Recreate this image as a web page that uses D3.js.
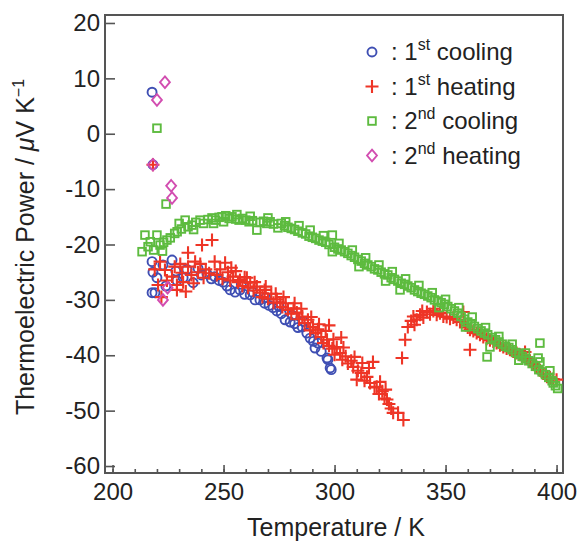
<!DOCTYPE html>
<html>
<head>
<meta charset="utf-8">
<script src="https://cdn.jsdelivr.net/npm/d3@7"></script>
<style>
  body { margin: 0; background: #fff; }
  svg { font-family: "Liberation Sans", Arial, sans-serif; }
  .tick text { font-size: 24px; fill: #222; }
  .tick line { stroke: #555; stroke-width: 1.6; }
</style>
</head>
<body>
<svg id="chart" width="580" height="541"></svg>
<script>
// [temperature K, thermoelectric power uV/K]
var cooling1 = [
  [217.8,7.5],[218.2,-5.6],[217.8,-23.1],[218.2,-25.0],[217.8,-28.7],[219.1,-28.7],[220.0,-26.0],
  [222.7,-23.7],[224.0,-27.5],[226.8,-22.8],[228.5,-24.8],[229.0,-26.5],[231.8,-26.0],[233.5,-24.5],
  [236.3,-26.9],[238.5,-24.3],[240.0,-25.5],[242.5,-25.3],[244.5,-26.2],[246.0,-25.8],[248.0,-26.5],
  [249.8,-26.8],[251.5,-27.5],[253.0,-28.2],[255.2,-28.6],[257.4,-28.2],[259.5,-29.0],[262.0,-29.1],
  [264.2,-30.0],[266.4,-30.0],[268.5,-30.6],[270.5,-31.0],[272.3,-31.4],[274.0,-32.0],[276.0,-32.5],
  [277.7,-33.6],[280.0,-34.0],[282.0,-34.3],[283.5,-35.0],[285.4,-34.9],[287.5,-36.0],[289.0,-36.9],
  [290.5,-37.5],[291.2,-38.7],[292.5,-37.8],[294.0,-39.3],[296.6,-40.5],[297.0,-40.8],[298.0,-42.3],
  [298.5,-42.6],[258.0,-27.2],[263.0,-28.6],[269.0,-29.6],[275.0,-31.2],[281.0,-32.8],[286.0,-33.9]
];
var heating1 = [
  [218.2,-5.6],[219.0,-24.5],[220.5,-27.3],[221.4,-23.1],[222.0,-29.5],[223.6,-24.6],[224.5,-26.5],
  [226.8,-25.8],[228.0,-24.0],[229.0,-27.3],[229.0,-28.2],[230.5,-23.5],[231.3,-25.1],[231.8,-26.8],
  [233.0,-28.5],[234.0,-24.0],[234.0,-21.5],[235.5,-25.5],[236.5,-27.0],[237.2,-23.1],[238.5,-25.0],
  [239.5,-23.5],[240.3,-20.1],[241.0,-26.0],[242.0,-24.5],[243.5,-25.2],[244.8,-19.2],[246.0,-23.1],
  [247.0,-25.5],[248.5,-24.5],[249.5,-26.2],[250.7,-23.3],[252.0,-25.0],[253.0,-26.5],[254.3,-25.8],
  [255.5,-24.8],[256.5,-26.8],[257.4,-26.4],[258.5,-27.5],[259.5,-25.9],[261.0,-27.8],[262.0,-26.9],
  [263.5,-28.3],[265.0,-27.6],[266.4,-28.7],[267.5,-29.5],[268.5,-28.2],[270.0,-29.8],[271.5,-28.9],
  [272.5,-30.5],[274.0,-29.9],[275.5,-30.5],[276.5,-31.3],[278.0,-30.6],[279.0,-31.8],[280.5,-32.5],
  [281.5,-31.5],[283.0,-32.3],[284.0,-33.5],[285.5,-33.0],[286.5,-34.2],[288.0,-33.6],[289.0,-35.5],
  [290.3,-34.9],[291.5,-36.0],[292.5,-35.3],[294.0,-36.7],[295.0,-37.8],[296.6,-37.2],[297.5,-38.3],
  [299.0,-38.8],[300.0,-39.9],[301.0,-38.5],[302.5,-39.6],[303.5,-40.8],[305.0,-40.2],[306.0,-41.5],
  [307.5,-41.0],[308.4,-42.1],[310.0,-44.4],[310.5,-42.8],[312.0,-43.2],[313.5,-44.6],[314.6,-43.9],
  [316.0,-45.0],[317.3,-41.2],[318.0,-45.8],[319.0,-45.7],[320.0,-47.0],[321.5,-46.5],[322.5,-47.8],
  [323.6,-48.0],[324.5,-48.8],[325.5,-49.6],[326.4,-50.4],[328.6,-50.4],[331.0,-51.7],
  [253.5,-24.2],[260.5,-26.0],[264.0,-26.8],[269.0,-27.6],[273.5,-28.9],[277.0,-29.5],[282.0,-30.6],
  [285.0,-31.6],[289.5,-33.1],[293.0,-34.4],[296.0,-35.6],[299.5,-37.1],[304.0,-38.6],[309.0,-40.3],
  [312.5,-41.4],[315.5,-42.3],[297.5,-34.6],[303.0,-36.8],[320.5,-44.8],[323.0,-46.2],
  [330.4,-40.5],[331.8,-37.2],[333.0,-34.9],[334.5,-33.8],[336.0,-34.5],[337.0,-33.6],[338.5,-32.7],
  [340.0,-33.2],[341.6,-32.2],[343.0,-32.6],[344.5,-32.0],[346.0,-32.7],[347.5,-32.4],[349.0,-33.0],
  [350.5,-33.1],[352.0,-33.4],[353.5,-33.2],[355.0,-33.6],[356.5,-34.0],[358.0,-32.2],[359.0,-34.6],
  [360.0,-35.0],[361.0,-35.4],[361.0,-39.0],[362.5,-35.6],[364.0,-36.0],[365.5,-36.3],[367.0,-36.7],
  [368.5,-37.0],[370.0,-37.3],[371.5,-37.5],[373.0,-37.8],[374.5,-38.2],[376.0,-38.5],[377.5,-38.8],
  [379.0,-39.0],[380.5,-39.3],[382.0,-39.6],[383.5,-39.9],[385.0,-40.0],[385.8,-39.4],[386.5,-40.6],
  [388.0,-41.0],[389.5,-41.6],[391.0,-42.1],[392.5,-42.7],[394.0,-43.3],[395.7,-43.9],[397.0,-44.0],
  [398.5,-44.3],[400.0,-44.4],[335.5,-33.0],[339.5,-32.0],[345.0,-31.6]
];
var cooling2 = [
  [220.0,1.0],[224.1,-12.7],
  [214.6,-18.3],[220.0,-18.3],[224.5,-19.2],[213.3,-21.3],[216.0,-20.4],[218.5,-21.0],[221.4,-20.1],
  [223.0,-19.6],[226.0,-18.8],[228.0,-18.0],[229.1,-17.7],[231.0,-17.2],[232.7,-15.6],[234.0,-16.8],
  [235.8,-16.5],[237.5,-16.0],[239.4,-15.6],[241.0,-16.2],[243.0,-15.5],[244.8,-15.2],[246.5,-15.6],
  [248.0,-15.1],[249.3,-15.0],[251.0,-14.8],[252.5,-15.3],[253.8,-15.0],[255.5,-15.4],[257.0,-15.6],
  [258.5,-15.3],[260.0,-15.6],[261.5,-15.9],[263.0,-15.7],[265.0,-17.4],[266.5,-16.0],[268.0,-15.8],
  [269.5,-16.2],[271.0,-15.9],[272.5,-16.3],[274.5,-17.0],[276.0,-16.2],[277.5,-16.6],[279.0,-16.9],
  [280.5,-17.1],[282.0,-17.3],[283.5,-17.6],[285.5,-17.9],[287.0,-18.1],[288.5,-18.5],[290.0,-18.7],
  [291.5,-18.9],[293.0,-19.2],[294.5,-19.4],[296.0,-19.6],[297.5,-20.0],[299.0,-18.3],[299.0,-21.3],
  [300.0,-20.5],[301.5,-20.8],[303.0,-21.0],[304.5,-21.3],[306.0,-21.6],[307.5,-22.0],[309.0,-22.3],
  [310.5,-22.7],[312.0,-23.0],[313.5,-23.4],[315.0,-23.7],[316.5,-24.0],[318.0,-24.4],[319.5,-24.6],
  [321.0,-25.0],[322.5,-25.3],[324.0,-25.5],[325.5,-26.0],[327.0,-26.3],[328.5,-26.6],[329.5,-28.2],
  [330.0,-27.0],[331.5,-27.2],[333.0,-27.5],[334.5,-27.8],[336.0,-28.2],[337.5,-28.5],[339.0,-28.8],
  [340.5,-29.0],[342.0,-29.3],[343.5,-29.6],[345.0,-30.0],[346.5,-30.2],[348.0,-30.5],[349.5,-30.8],
  [351.0,-31.2],[352.5,-31.6],[354.0,-32.0],[355.5,-32.4],[357.0,-33.0],[358.5,-33.5],[360.0,-34.0],
  [361.5,-34.3],[363.0,-34.8],[364.5,-35.2],[366.0,-35.6],[367.5,-36.0],[368.7,-40.3],[370.0,-38.5],
  [369.0,-36.3],[371.0,-36.8],[372.5,-37.2],[374.0,-37.6],[375.5,-38.0],[377.0,-38.4],[378.5,-38.6],
  [380.0,-39.0],[381.5,-39.5],[383.0,-39.8],[384.5,-40.2],[386.0,-40.6],[387.5,-41.0],[389.0,-41.5],
  [390.5,-42.0],[391.7,-40.5],[392.5,-37.8],[392.0,-42.6],[393.5,-43.0],[395.0,-43.5],[396.5,-44.0],
  [398.0,-44.6],[399.5,-45.5],[400.5,-46.0],[398.5,-45.0],
  [217.0,-19.5],[222.5,-21.2],[230.0,-16.2],[236.5,-17.3],[245.5,-16.2],[250.0,-15.9],[256.0,-14.6],
  [262.0,-14.9],[270.0,-15.2],[278.0,-15.9],[284.0,-16.6],[289.0,-17.4],[295.0,-18.4],[302.0,-19.8],
  [308.0,-21.0],[314.0,-22.4],[320.0,-23.7],[326.0,-24.9],[332.0,-26.2],[338.0,-27.4],[344.0,-28.7],
  [350.0,-29.9],[356.0,-31.4],[362.0,-33.1],[368.0,-35.0],[374.0,-36.6],[380.0,-38.0],[386.0,-39.6],
  [392.5,-41.2],[397.0,-42.8],[311.0,-24.0],[323.0,-26.6],[347.0,-31.4],[359.0,-34.9],[383.0,-40.9]
];
var heating2 = [
  [223.6,9.3],[220.0,6.1],[218.2,-5.6],[226.4,-9.4],[226.8,-11.6],[224.8,-27.8],[222.7,-30.0]
];

var xTicks = [200, 250, 300, 350, 400];
var yTicks = [20, 10, 0, -10, -20, -30, -40, -50, -60];
var legendLabels = [["1", "st", " cooling"], ["1", "st", " heating"], ["2", "nd", " cooling"], ["2", "nd", " heating"]];

var margin = {top: 15, left: 105},
    width = 458, height = 458;

var svg = d3.select("#chart");
var g = svg.append("g").attr("transform", "translate(" + margin.left + "," + margin.top + ")");

var x = d3.scaleLinear().domain([196.6, 402.9]).range([0, width]);
var y = d3.scaleLinear().domain([-61.26, 21.44]).range([height, 0]);

// minor x ticks every 10 K
g.append("g")
  .attr("transform", "translate(0," + height + ")")
  .call(d3.axisBottom(x).tickValues(d3.range(200, 401, 10)).tickSize(-4).tickFormat(""))
  .call(function(a) { a.select(".domain").remove(); });

g.append("g")
  .attr("transform", "translate(0," + height + ")")
  .call(d3.axisBottom(x).tickValues(xTicks).tickSize(-8).tickPadding(10).tickFormat(function(d) { return String(d); }))
  .call(function(a) { a.select(".domain").remove(); });

g.append("g")
  .call(d3.axisLeft(y).tickValues(yTicks).tickSize(-10).tickPadding(5).tickFormat(function(d) { return String(d); }))
  .call(function(a) { a.select(".domain").remove(); });

g.append("rect")
  .attr("width", width).attr("height", height)
  .attr("fill", "none").attr("stroke", "#555").attr("stroke-width", 2);

var colors = {c1: "#3f4fb3", h1: "#ee3526", c2: "#5dbb3f", h2: "#d24db0"};

function plusPath(s) { return "M" + (-s) + ",0H" + s + "M0," + (-s) + "V" + s; }
function diamondPath(s) { return "M0," + (-s) + "L" + (s * 0.85) + ",0L0," + s + "L" + (-s * 0.85) + ",0Z"; }

var plot = g.append("g");

plot.selectAll(".c1").data(cooling1).enter().append("circle")
  .attr("cx", function(d) { return x(d[0]); })
  .attr("cy", function(d) { return y(d[1]); })
  .attr("r", 4.5)
  .attr("fill", "none").attr("stroke", colors.c1).attr("stroke-width", 1.9);

plot.selectAll(".h1").data(heating1).enter().append("path")
  .attr("transform", function(d) { return "translate(" + x(d[0]) + "," + y(d[1]) + ")"; })
  .attr("d", plusPath(6.5))
  .attr("fill", "none").attr("stroke", colors.h1).attr("stroke-width", 2.1);

plot.selectAll(".c2").data(cooling2).enter().append("rect")
  .attr("x", function(d) { return x(d[0]) - 3.8; })
  .attr("y", function(d) { return y(d[1]) - 3.8; })
  .attr("width", 7.6).attr("height", 7.6)
  .attr("fill", "none").attr("stroke", colors.c2).attr("stroke-width", 1.9);

plot.selectAll(".h2").data(heating2).enter().append("path")
  .attr("transform", function(d) { return "translate(" + x(d[0]) + "," + y(d[1]) + ")"; })
  .attr("d", diamondPath(5.8))
  .attr("fill", "none").attr("stroke", colors.h2).attr("stroke-width", 1.9);

// legend
var legend = svg.append("g").attr("transform", "translate(372,52)");
var keys = ["c1", "h1", "c2", "h2"];
keys.forEach(function(k, i) {
  var row = legend.append("g").attr("transform", "translate(0," + (i * 34.5) + ")");
  if (k == "c1") row.append("circle").attr("r", 4.5).attr("fill", "none").attr("stroke", colors.c1).attr("stroke-width", 1.9);
  if (k == "h1") row.append("path").attr("d", plusPath(6.5)).attr("fill", "none").attr("stroke", colors.h1).attr("stroke-width", 2.1);
  if (k == "c2") row.append("rect").attr("x", -3.8).attr("y", -3.8).attr("width", 7.6).attr("height", 7.6).attr("fill", "none").attr("stroke", colors.c2).attr("stroke-width", 1.9);
  if (k == "h2") row.append("path").attr("d", diamondPath(5.8)).attr("fill", "none").attr("stroke", colors.h2).attr("stroke-width", 1.9);
  var t = row.append("text").attr("x", 19).attr("y", 8).attr("font-size", 24).attr("fill", "#222");
  t.append("tspan").text(": " + legendLabels[i][0]);
  t.append("tspan").attr("dy", -10).attr("font-size", 16).text(legendLabels[i][1]);
  t.append("tspan").attr("dy", 10).text(legendLabels[i][2]);
});

// axis titles
svg.append("text")
  .attr("x", 336).attr("y", 536)
  .attr("text-anchor", "middle").attr("font-size", 25).attr("fill", "#222")
  .text("Temperature / K");

var yt = svg.append("text")
  .attr("transform", "translate(34,247) rotate(-90)")
  .attr("text-anchor", "middle").attr("font-size", 25).attr("fill", "#222");
yt.append("tspan").text("Thermoelectric Power / ");
yt.append("tspan").attr("font-style", "italic").text("\u03bc");
yt.append("tspan").text("V K");
yt.append("tspan").attr("dy", -10).attr("font-size", 16).text("\u22121");
</script>
</body>
</html>
